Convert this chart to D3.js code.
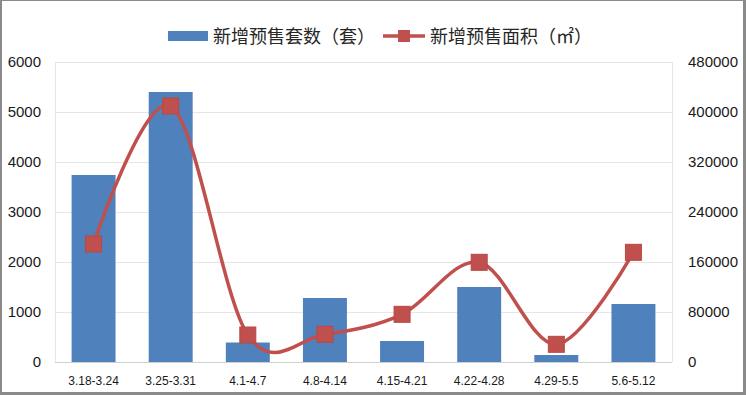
<!DOCTYPE html>
<html><head><meta charset="utf-8">
<script src="https://cdn.jsdelivr.net/npm/d3@7"></script>
<style>body{margin:0;padding:0;background:#fff}svg{display:block}</style>
</head><body>
<script>
const categories = ["3.18-3.24","3.25-3.31","4.1-4.7","4.8-4.14","4.15-4.21","4.22-4.28","4.29-5.5","5.6-5.12"];
const units = [3740, 5400, 390, 1280, 420, 1500, 140, 1160];
const area = [188800, 409600, 43200, 44300, 76300, 159500, 28300, 175500];
const leftTicks = [0,1000,2000,3000,4000,5000,6000];
const rightTicks = [0,80000,160000,240000,320000,400000,480000];
const seriesNames = ["新增预售套数（套）","新增预售面积（㎡）"];

const W = 746, H = 395;
const m = {left:55, right:672, top:62, bottom:362};
const svg = d3.select("body").append("svg").attr("width",W).attr("height",H);

// border
svg.append("rect").attr("width",W).attr("height",H).attr("fill","#8a8a8a");
svg.append("rect").attr("x",2).attr("y",1).attr("width",741).attr("height",391).attr("fill","#fff");

const x = d3.scaleBand().domain(categories).range([m.left,m.right]).paddingInner(0.43).paddingOuter(0.215);
const yL = d3.scaleLinear().domain([0,6000]).range([m.bottom,m.top]);
const yR = d3.scaleLinear().domain([0,480000]).range([m.bottom,m.top]);

// gridlines
svg.append("g").selectAll("line").data(leftTicks.filter(d=>d>0)).join("line")
  .attr("x1",m.left).attr("x2",m.right).attr("y1",d=>yL(d)).attr("y2",d=>yL(d))
  .attr("stroke","#e6e6e6").attr("stroke-width",1).attr("shape-rendering","crispEdges");
// vertical borders of plot
svg.append("line").attr("x1",m.left).attr("x2",m.left).attr("y1",m.top).attr("y2",m.bottom).attr("stroke","#e6e6e6").attr("shape-rendering","crispEdges");
svg.append("line").attr("x1",m.right).attr("x2",m.right).attr("y1",m.top).attr("y2",m.bottom).attr("stroke","#e6e6e6").attr("shape-rendering","crispEdges");

// bars
svg.append("g").selectAll("rect").data(units).join("rect")
  .attr("x",(d,i)=>x(categories[i])).attr("width",x.bandwidth())
  .attr("y",d=>yL(d)).attr("height",d=>yL(0)-yL(d)).attr("fill","#4F81BD");

// bottom axis line
svg.append("line").attr("x1",m.left).attr("x2",m.right).attr("y1",m.bottom+0.5).attr("y2",m.bottom+0.5).attr("stroke","#d0d0d0");

// axes
const axL = svg.append("g").attr("transform",`translate(${m.left-14},0)`)
  .call(d3.axisLeft(yL).tickValues(leftTicks).tickSize(0).tickPadding(0).tickFormat(d3.format("d")));
const axR = svg.append("g").attr("transform",`translate(${m.right+16},0)`)
  .call(d3.axisRight(yR).tickValues(rightTicks).tickSize(0).tickPadding(0).tickFormat(d3.format("d")));
const axB = svg.append("g").attr("transform",`translate(0,${m.bottom})`)
  .call(d3.axisBottom(x).tickSize(0).tickPadding(14));
[axL,axR].forEach(a=>{a.select(".domain").remove();a.selectAll("text").attr("font-family","Liberation Sans, Arial, sans-serif").attr("font-size","15px").attr("fill","#1a1a1a");});
axB.select(".domain").remove();
axB.selectAll("text").attr("font-family","Liberation Sans, Arial, sans-serif").attr("font-size","12px").attr("fill","#1a1a1a");

// line
const pts = area.map((d,i)=>[x(categories[i])+x.bandwidth()/2, yR(d)]);
svg.append("path").attr("d",d3.line().curve(d3.curveCardinal.tension(0))(pts))
  .attr("fill","none").attr("stroke","#C0504D").attr("stroke-width",3.5);
svg.append("g").selectAll("rect").data(pts).join("rect")
  .attr("x",d=>d[0]-8).attr("y",d=>d[1]-8).attr("width",16).attr("height",16)
  .attr("fill","#C0504D").attr("stroke","#B84845").attr("stroke-width",1);

// legend
const lg = svg.append("g");
lg.append("rect").attr("x",168).attr("y",31).attr("width",40).attr("height",10).attr("fill","#4F81BD");
lg.append("text").attr("x",213).attr("y",43).text(seriesNames[0]);
lg.append("line").attr("x1",383).attr("x2",425).attr("y1",36).attr("y2",36).attr("stroke","#C0504D").attr("stroke-width",3.5);
lg.append("rect").attr("x",398).attr("y",30).attr("width",12).attr("height",12).attr("fill","#C0504D");
lg.append("text").attr("x",430).attr("y",43).text(seriesNames[1]);
lg.selectAll("text").attr("font-family","Noto Sans CJK SC, sans-serif").attr("font-size","18px").attr("fill","#262626");
</script>
</body></html>
